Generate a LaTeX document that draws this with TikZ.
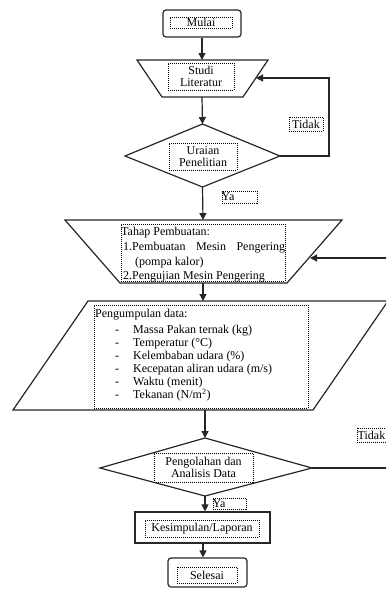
\documentclass[tikz,border=0pt]{standalone}
\usepackage{fontspec}
\setmainfont{Liberation Serif}
\usetikzlibrary{arrows.meta}
\begin{document}
\begin{tikzpicture}[x=1pt,y=-1pt,
  outline/.style={draw=black!85,line width=1.2pt},
  flow/.style={draw=black!85,line width=1.2pt,-{Triangle[width=7pt,length=7pt]}},
  dotbox/.style={draw=black,line width=1pt,dash pattern=on 1pt off 1pt,inner sep=0pt},
  txt/.style={inner sep=0pt,font=\fontsize{12}{11.6}\selectfont},
]
\useasboundingbox (0,0) rectangle (386,589);
\clip (0,0) rectangle (386,589);

% ---------- outer shapes ----------
% Mulai
\node[outline,rounded corners=3pt,minimum width=78pt,minimum height=27pt,inner sep=0pt] (mulai) at (202,23.5) {};
% Studi Literatur (trapezoid)
\coordinate (t1nw) at (137,60); \coordinate (t1ne) at (268,60);
\coordinate (t1se) at (243,97); \coordinate (t1sw) at (162,97);
\draw[outline] (t1nw) -- (t1ne) -- (t1se) -- (t1sw) -- cycle;
\coordinate (t1n) at (202,60); \coordinate (t1s) at (202,97);
\coordinate (t1in) at (256,78);
% Uraian Penelitian (diamond)
\coordinate (d1n) at (202.5,124); \coordinate (d1e) at (280,156);
\coordinate (d1s) at (202.5,187); \coordinate (d1w) at (125,156);
\draw[outline] (d1n) -- (d1e) -- (d1s) -- (d1w) -- cycle;
% Tahap pembuatan (trapezoid)
\coordinate (t2nw) at (65,220); \coordinate (t2ne) at (342,220);
\coordinate (t2se) at (287,283); \coordinate (t2sw) at (120,283);
\draw[outline] (t2nw) -- (t2ne) -- (t2se) -- (t2sw) -- cycle;
\coordinate (t2n) at (203,220); \coordinate (t2s) at (203,283);
\coordinate (t2in) at (310,258);
% Pengumpulan data (parallelogram)
\coordinate (pnw) at (88,301); \coordinate (pne) at (388,301);
\coordinate (pse) at (313,410); \coordinate (psw) at (13,410);
\draw[outline] (pnw) -- (pne) -- (pse) -- (psw) -- cycle;
\coordinate (pn) at (203,301); \coordinate (ps) at (205,410);
% Pengolahan (diamond)
\coordinate (d2n) at (205,438); \coordinate (d2e) at (312,468);
\coordinate (d2s) at (205,496); \coordinate (d2w) at (100,468);
\draw[outline] (d2n) -- (d2e) -- (d2s) -- (d2w) -- cycle;
% Kesimpulan
\node[outline,minimum width=135pt,minimum height=31pt,inner sep=0pt] (kes) at (202.5,527.5) {};
% Selesai
\node[outline,rounded corners=3pt,minimum width=79pt,minimum height=29pt,inner sep=0pt] (sel) at (207.5,572.5) {};

% ---------- dotted text boxes ----------
\node[dotbox,minimum width=62pt,minimum height=11pt] (mulaiT) at (201,22.5) {};
\node[txt] at (mulaiT) {Mulai};
\node[dotbox,minimum width=66pt,minimum height=27pt] (studiT) at (201,76.5) {};
\node[txt,align=center] at (studiT) {Studi\\Literatur};
\node[dotbox,minimum width=68pt,minimum height=27pt] (uraianT) at (203,156.5) {};
\node[txt,align=center] at (uraianT) {Uraian\\Penelitian};
\node[dotbox,minimum width=164pt,minimum height=57pt] (tahapT) at (203,252.5) {};
\node[txt,anchor=base west] (tl1) at (121,235.5) {Tahap Pembuatan:};
\node[txt,anchor=base west] (tl2) at (123,250.5) {\makebox[162pt][l]{1.Pembuatan\hfill Mesin\hfill Pengering}};
\node[txt,anchor=base west] (tl3) at (135,265.5) {(pompa kalor)};
\node[txt,anchor=base west] (tl4) at (123,279.5) {2.Pengujian Mesin Pengering};
\node[dotbox,minimum width=214pt,minimum height=103pt] (dataT) at (201,356.5) {};
\node[txt,anchor=base west] (dl0) at (95,317) {Pengumpulan data:};
\foreach \yy/\tt in {333.5/{Massa Pakan ternak (kg)},346.5/{Temperatur (°C)},359.5/{Kelembaban udara (\%)},372/{Kecepatan aliran udara (m/s)},385/{Waktu (menit)},398.5/{Tekanan (N/m\textsuperscript{2})}}{
  \node[txt,anchor=base] at (117,\yy) {-};
  \node[txt,anchor=base west] at (133,\yy) {\tt};
}
\node[dotbox,minimum width=99pt,minimum height=29pt] (olahT) at (203.5,467.5) {};
\node[txt,align=center] at (olahT) {Pengolahan dan\\Analisis Data};
\node[dotbox,minimum width=114pt,minimum height=17pt] (kesT) at (202,528.5) {};
\node[txt] at (kesT) {Kesimpulan/Laporan};
\node[dotbox,minimum width=60pt,minimum height=16pt] (selT) at (207,575) {};
\node[txt] at (selT) {Selesai};

% labels
\node[dotbox,minimum width=34pt,minimum height=14pt] (tidak1) at (306,124) {};
\node[txt] at (tidak1) {Tidak};
\node[dotbox,minimum width=35pt,minimum height=12pt] (ya1) at (239.5,197) {};
\node[txt,anchor=west] at (ya1.west) {Ya};
\node[dotbox,minimum width=36pt,minimum height=14pt] (tidak2) at (375,435) {};
\node[txt,anchor=west] at ([xshift=1pt]tidak2.west) {Tidak};
\node[dotbox,minimum width=33pt,minimum height=11pt] (ya2) at (229.5,503.5) {};
\node[txt,anchor=west] at (ya2.west) {Ya};

% ---------- connectors ----------
\draw[flow] (mulai.south) -- (t1n);
\draw[flow] (t1s) -- (d1n);
\coordinate (loop1) at (329,78);
\draw[flow] (d1e) -| (loop1) -- (t1in);
\draw[flow] (d1s) -- (t2n);
\coordinate (fb2) at (392,258);
\draw[flow] (fb2) -- (t2in);
\draw[flow] (t2s) -- (pn);
\draw[flow] (ps) -- (d2n);
\coordinate (fb2out) at (392,468);
\draw[outline] (d2e) -- (fb2out);
\draw[flow] (d2s) -- (kes.north -| d2s);
\draw[flow] (kes.south -| 203,0) -- (sel.north -| 203,0);
\end{tikzpicture}
\end{document}
